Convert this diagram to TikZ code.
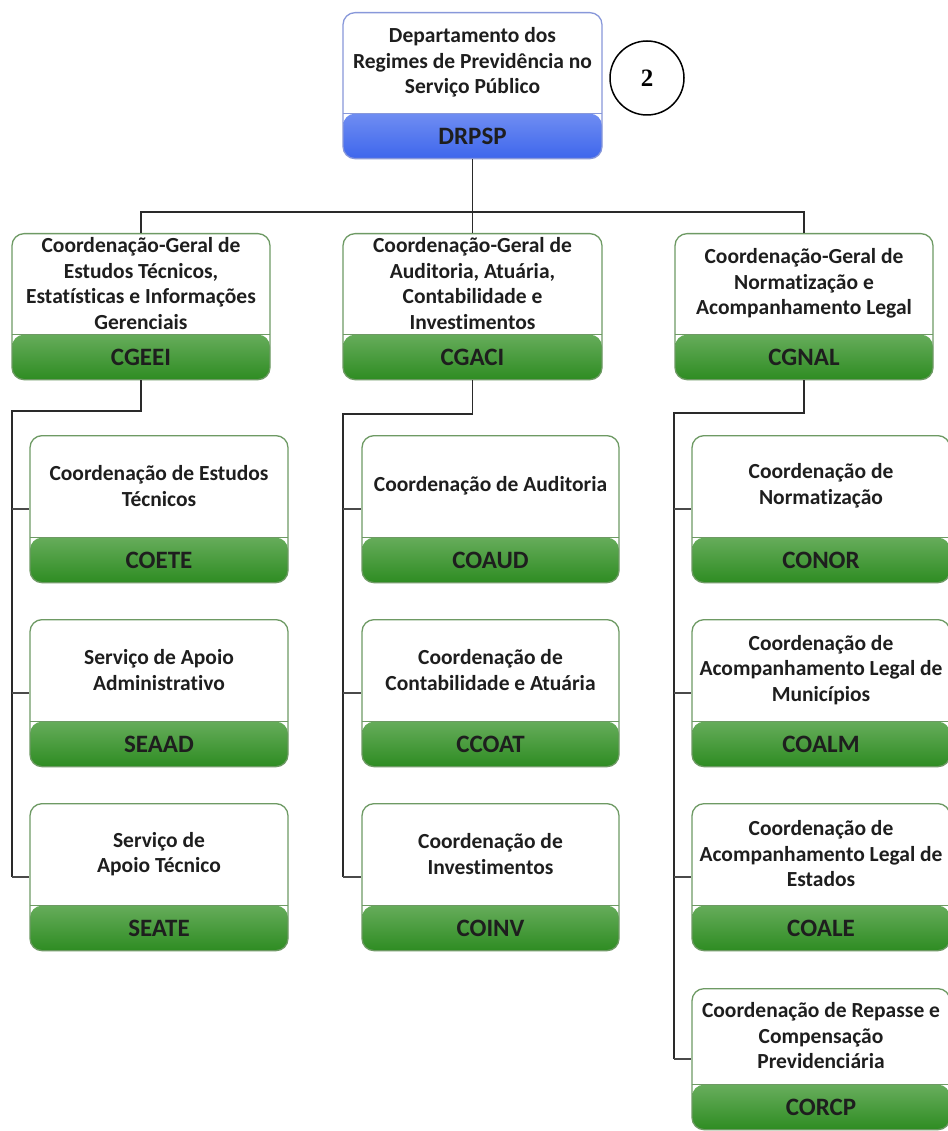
\documentclass[tikz,border=0pt]{standalone}
\usepackage{fontspec}
\setmainfont{Carlito}[Ligatures={NoCommon}]
\newfontfamily\timesf{Liberation Serif}
\usetikzlibrary{calc}
\definecolor{gtop}{HTML}{E4F4DA}
\definecolor{gbot}{HTML}{2E8C22}
\definecolor{btop}{HTML}{DCE4FF}
\definecolor{bbot}{HTML}{3E66EC}
\definecolor{gedge}{HTML}{6E9A64}
\definecolor{bedge}{HTML}{8898DA}
\definecolor{ink}{HTML}{1E1E1E}
\definecolor{wire}{HTML}{2A2A2A}
\tikzset{
  orgbox/.style={rounded corners=12pt, line width=1.3pt, fill=white, inner sep=0pt},
  greenbox/.style={orgbox, draw=gedge,
    path picture={\shade[top color=gtop, bottom color=gbot]
      (path picture bounding box.south west) rectangle ([yshift=45pt]path picture bounding box.south east);
      \draw[gedge, line width=1.3pt] ([yshift=45pt]path picture bounding box.south west) -- ([yshift=45pt]path picture bounding box.south east);}},
  bluebox/.style={orgbox, draw=bedge,
    path picture={\shade[top color=btop, bottom color=bbot]
      (path picture bounding box.south west) rectangle ([yshift=45pt]path picture bounding box.south east);
      \draw[bedge, line width=1.3pt] ([yshift=45pt]path picture bounding box.south west) -- ([yshift=45pt]path picture bounding box.south east);}},
  bodytxt/.style={align=center, text=ink, font=\fontsize{21.5}{25.5}\selectfont\bfseries, inner sep=0pt},
  abbrtxt/.style={text=ink, font=\fontsize{25}{29}\selectfont\bfseries, inner sep=0pt},
  mainwire/.style={draw=wire, line width=1.8pt},
  subwire/.style={draw=wire!85, line width=1.4pt},
}
\newcommand\obox[8]{%
  \node[#6, minimum width=#4pt, minimum height=#5pt, anchor=north] (#1) at (#2,#3) {};
  \node[bodytxt] (#1-t) at ($(#1.north)+(0,{(#5-45)/2})$) {#7};
  \node[abbrtxt] (#1-a) at ($(#1.south)+(0,-22.5)$) {#8};
}
\begin{document}
\begin{tikzpicture}[x=1pt,y=-1pt]
\fill[white] (0,0) rectangle (947,1131);
\useasboundingbox (0,0) rectangle (947,1131);

\obox{drpsp}{472.5}{12}{259}{146}{bluebox}{Departamento dos\\Regimes de Previdência no\\Serviço Público}{DRPSP}
\node[circle, draw=black, line width=1.5pt, minimum size=74pt, inner sep=0pt, font=\timesf\fontsize{25}{28}\selectfont\bfseries] (num) at (647,78) {2};

\obox{cgeei}{141}{233}{258}{146}{greenbox}{Coordenação-Geral de\\Estudos Técnicos,\\Estatísticas e Informações\\Gerenciais}{CGEEI}
\obox{cgaci}{472.5}{233}{259}{146}{greenbox}{Coordenação-Geral de\\Auditoria, Atuária,\\Contabilidade e\\Investimentos}{CGACI}
\obox{cgnal}{804}{233}{258}{146}{greenbox}{Coordenação-Geral de\\Normatização e\\Acompanhamento Legal}{CGNAL}

\obox{coete}{159}{435}{258}{147}{greenbox}{Coordenação de Estudos\\Técnicos}{COETE}
\obox{seaad}{159}{619}{258}{147}{greenbox}{Serviço de Apoio\\Administrativo}{SEAAD}
\obox{seate}{159}{803}{258}{147}{greenbox}{Serviço de\\Apoio Técnico}{SEATE}

\obox{coaud}{490.5}{435}{257}{147}{greenbox}{Coordenação de Auditoria}{COAUD}
\obox{ccoat}{490.5}{619}{257}{147}{greenbox}{Coordenação de\\Contabilidade e Atuária}{CCOAT}
\obox{coinv}{490.5}{803}{257}{147}{greenbox}{Coordenação de\\Investimentos}{COINV}

\obox{conor}{821}{435}{258}{147}{greenbox}{Coordenação de\\Normatização}{CONOR}
\obox{coalm}{821}{619}{258}{147}{greenbox}{Coordenação de\\Acompanhamento Legal de\\Municípios}{COALM}
\obox{coale}{821}{803}{258}{147}{greenbox}{Coordenação de\\Acompanhamento Legal de\\Estados}{COALE}
\obox{corcp}{821}{988}{258}{141}{greenbox}{Coordenação de Repasse e\\Compensação\\Previdenciária}{CORCP}

% top bus
\coordinate (bus) at (472.5,212);
\draw[mainwire] (drpsp.south) -- (drpsp.south |- bus);
\draw[mainwire] (cgeei.north) -- (cgeei.north |- bus) -- (cgnal.north |- bus) -- (cgnal.north);
\draw[mainwire] (cgaci.north) -- (cgaci.north |- bus);

% column buses
\coordinate (c1) at (12,411);
\coordinate (c2) at (343,414);
\coordinate (c3) at (674,413);
\draw[mainwire] (cgeei.south) -- (cgeei.south |- c1) -- (c1) -- (c1 |- seate.west);
\draw[mainwire] (cgaci.south) -- (cgaci.south |- c2) -- (c2) -- (c2 |- coinv.west);
\draw[mainwire] (cgnal.south) -- (cgnal.south |- c3) -- (c3) -- (c3 |- corcp.west);

\draw[subwire] (c1 |- coete.west) -- (coete.west);
\draw[subwire] (c1 |- seaad.west) -- (seaad.west);
\draw[subwire] (c1 |- seate.west) -- (seate.west);
\draw[subwire] (c2 |- coaud.west) -- (coaud.west);
\draw[subwire] (c2 |- ccoat.west) -- (ccoat.west);
\draw[subwire] (c2 |- coinv.west) -- (coinv.west);
\draw[subwire] (c3 |- conor.west) -- (conor.west);
\draw[subwire] (c3 |- coalm.west) -- (coalm.west);
\draw[subwire] (c3 |- coale.west) -- (coale.west);
\draw[subwire] (c3 |- corcp.west) -- (corcp.west);
\end{tikzpicture}
\end{document}
